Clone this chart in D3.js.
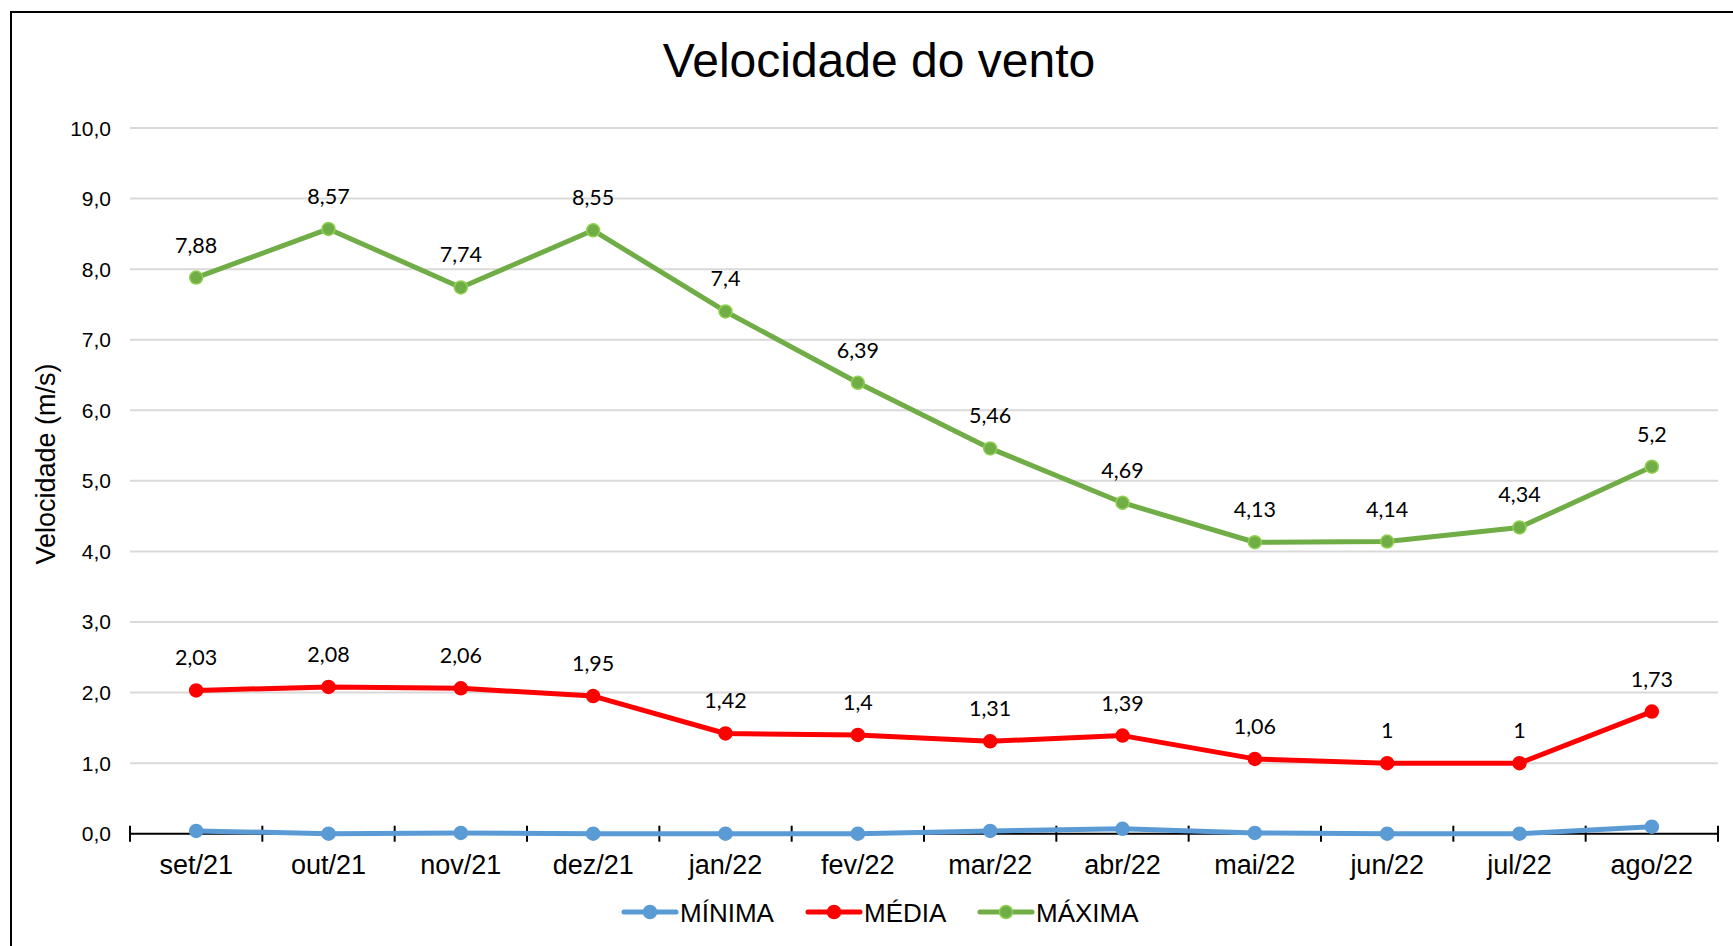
<!DOCTYPE html>
<html>
<head>
<meta charset="utf-8">
<script src="https://cdn.jsdelivr.net/npm/d3@7"></script>
<style>
  body { margin: 0; background: #fff; }
  svg { display: block; }
  .tick-label { font-family: "Liberation Sans", Arial, sans-serif; fill: #000; }
  .data-label { font-family: Lato, "Noto Sans", sans-serif; font-size: 21.5px; fill: #000; }
</style>
</head>
<body>
<svg id="chart"></svg>
<script>
  // chart values
  var months = ['set/21', 'out/21', 'nov/21', 'dez/21', 'jan/22', 'fev/22',
    'mar/22', 'abr/22', 'mai/22', 'jun/22', 'jul/22', 'ago/22'];
  var minima = [0.04, 0.0, 0.01, 0.0, 0.0, 0.0, 0.04, 0.07, 0.01, 0.0, 0.0, 0.1];
  var media = [2.03, 2.08, 2.06, 1.95, 1.42, 1.4, 1.31, 1.39, 1.06, 1, 1, 1.73];
  var maxima = [7.88, 8.57, 7.74, 8.55, 7.4, 6.39, 5.46, 4.69, 4.13, 4.14, 4.34, 5.2];
  var yTicks = [0, 1, 2, 3, 4, 5, 6, 7, 8, 9, 10];

  var series = [
    {name: 'MÍNIMA', values: minima, color: '#5b9bd5', stroke: '#5b9bd5', labels: false},
    {name: 'MÉDIA', values: media, color: '#ff0000', stroke: '#ff0000', labels: true},
    {name: 'MÁXIMA', values: maxima, color: '#70ad47', stroke: '#8fd14f', labels: true}
  ];

  var width = 1733, height = 946;
  var svg = d3.select('#chart').attr('width', width).attr('height', height);

  // outer frame (runs off the right/bottom edge like the original)
  svg.append('rect')
    .attr('x', 11).attr('y', 12)
    .attr('width', 1800).attr('height', 1000)
    .attr('fill', 'none').attr('stroke', '#000').attr('stroke-width', 2);

  var plotLeft = 130, plotRight = 1718, plotTop = 128, plotBottom = 833.7;

  var x = d3.scaleBand().domain(months).range([plotLeft, plotRight]);
  var y = d3.scaleLinear().domain([0, 10]).range([plotBottom, plotTop]);
  var cx = function(i) { return x(months[i]) + x.bandwidth() / 2; };
  var fmtTick = function(d) { return d3.format('.1f')(d).replace('.', ','); };
  var fmtVal = function(d) { return String(d).replace('.', ','); };

  // title
  svg.append('text')
    .attr('x', 879).attr('y', 77)
    .attr('text-anchor', 'middle')
    .style('font-family', '"Liberation Sans", Arial, sans-serif')
    .style('font-size', '48px')
    .text('Velocidade do vento');

  // gridlines
  svg.append('g')
    .selectAll('line')
    .data(yTicks.filter(function(d) { return d > 0; }))
    .enter().append('line')
    .attr('x1', plotLeft).attr('x2', plotRight)
    .attr('y1', y).attr('y2', y)
    .attr('stroke', '#d9d9d9').attr('stroke-width', 2);

  // y tick labels
  svg.append('g')
    .selectAll('text')
    .data(yTicks)
    .enter().append('text')
    .attr('class', 'tick-label')
    .attr('x', 111)
    .attr('y', function(d) { return y(d) + 7.5; })
    .attr('text-anchor', 'end')
    .style('font-size', '21px')
    .text(fmtTick);

  // y title
  svg.append('text')
    .attr('transform', 'translate(55,' + 464 + ') rotate(-90)')
    .attr('text-anchor', 'middle')
    .style('font-family', '"Liberation Sans", Arial, sans-serif')
    .style('font-size', '27px')
    .text('Velocidade (m/s)');

  // x axis with cross ticks
  var gx = svg.append('g');
  gx.append('line')
    .attr('x1', plotLeft).attr('x2', plotRight)
    .attr('y1', plotBottom).attr('y2', plotBottom)
    .attr('stroke', '#000').attr('stroke-width', 2);
  gx.selectAll('line.tk')
    .data(d3.range(months.length + 1))
    .enter().append('line')
    .attr('class', 'tk')
    .attr('x1', function(i) { return plotLeft + i * x.bandwidth(); })
    .attr('x2', function(i) { return plotLeft + i * x.bandwidth(); })
    .attr('y1', plotBottom - 8).attr('y2', plotBottom + 8)
    .attr('stroke', '#000').attr('stroke-width', 2);
  gx.selectAll('text')
    .data(months)
    .enter().append('text')
    .attr('class', 'tick-label')
    .attr('x', function(d, i) { return cx(i); })
    .attr('y', 874)
    .attr('text-anchor', 'middle')
    .style('font-size', '27px')
    .text(function(d) { return d; });

  var line = d3.line()
    .x(function(d, i) { return cx(i); })
    .y(function(d) { return y(d); });

  series.forEach(function(s) {
    var g = svg.append('g');
    g.append('path')
      .datum(s.values)
      .attr('d', line)
      .attr('fill', 'none')
      .attr('stroke', s.color)
      .attr('stroke-width', 5)
      .attr('stroke-linejoin', 'round');
    g.selectAll('circle')
      .data(s.values)
      .enter().append('circle')
      .attr('cx', function(d, i) { return cx(i); })
      .attr('cy', y)
      .attr('r', 6.5)
      .attr('fill', s.color)
      .attr('stroke', s.stroke)
      .attr('stroke-width', 1.5);
    if (s.labels) {
      g.selectAll('text')
        .data(s.values)
        .enter().append('text')
        .attr('class', 'data-label')
        .attr('x', function(d, i) { return cx(i); })
        .attr('y', function(d) { return y(d) - 25; })
        .attr('text-anchor', 'middle')
        .text(fmtVal);
    }
  });

  // legend
  var legendX = [624, 808, 980];
  var legend = svg.append('g');
  series.forEach(function(s, i) {
    var lx = legendX[i], ly = 912;
    legend.append('line')
      .attr('x1', lx).attr('x2', lx + 52)
      .attr('y1', ly).attr('y2', ly)
      .attr('stroke', s.color).attr('stroke-width', 5)
      .attr('stroke-linecap', 'round');
    legend.append('circle')
      .attr('cx', lx + 26).attr('cy', ly).attr('r', 6.5)
      .attr('fill', s.color).attr('stroke', s.stroke).attr('stroke-width', 1.5);
    legend.append('text')
      .attr('class', 'tick-label')
      .attr('x', lx + 56).attr('y', 922)
      .style('font-size', '26px')
      .text(s.name);
  });
</script>
</body>
</html>
